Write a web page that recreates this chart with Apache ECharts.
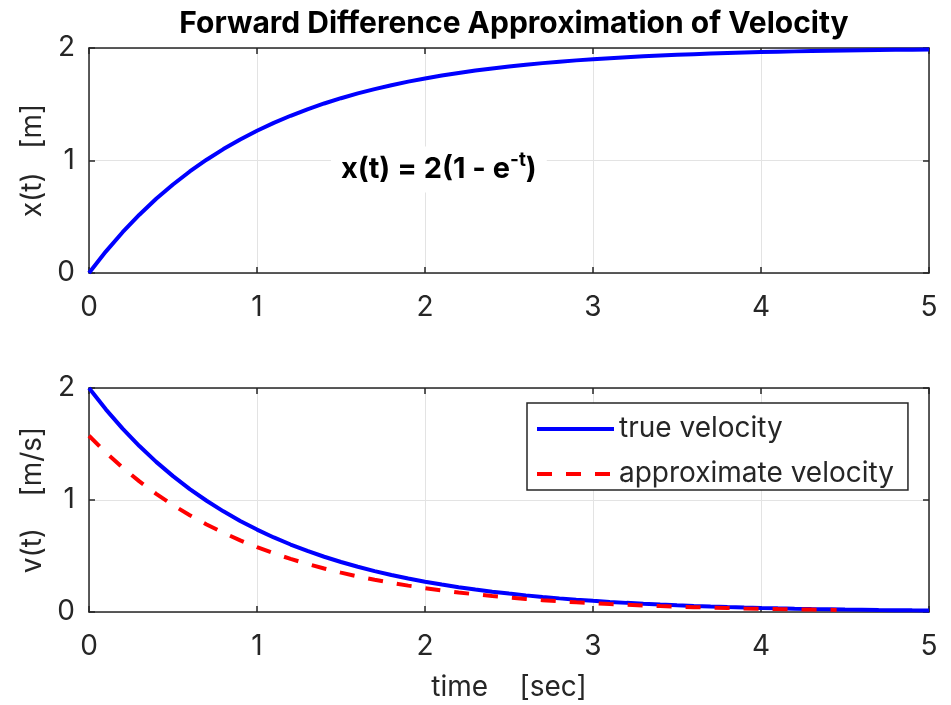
<!DOCTYPE html>
<html>
<head>
<meta charset="utf-8">
<script src="https://cdn.jsdelivr.net/npm/echarts@6/dist/echarts.min.js"></script>
<style>html,body{margin:0;padding:0;background:#fff;}#c{width:951px;height:705px;}</style>
</head>
<body>
<div id="c"></div>
<script>
// time samples [sec]
const time = [0, 0.1, 0.2, 0.3, 0.4, 0.5, 0.6, 0.7, 0.8, 0.9, 1, 1.1, 1.2, 1.3, 1.4, 1.5, 1.6, 1.7, 1.8, 1.9, 2,
  2.1, 2.2, 2.3, 2.4, 2.5, 2.6, 2.7, 2.8, 2.9, 3, 3.1, 3.2, 3.3, 3.4, 3.5, 3.6, 3.7, 3.8, 3.9, 4,
  4.1, 4.2, 4.3, 4.4, 4.5, 4.6, 4.7, 4.8, 4.9, 5];
// position x(t) [m]
const position = [0, 0.1903, 0.3625, 0.5184, 0.6594, 0.7869, 0.9024, 1.0068, 1.1013, 1.1869, 1.2642,
  1.3343, 1.3976, 1.4549, 1.5068, 1.5537, 1.5962, 1.6346, 1.6694, 1.7009, 1.7293,
  1.7551, 1.7784, 1.7995, 1.8186, 1.8358, 1.8515, 1.8656, 1.8784, 1.8900, 1.9004,
  1.9099, 1.9185, 1.9262, 1.9333, 1.9396, 1.9454, 1.9506, 1.9553, 1.9595, 1.9634,
  1.9669, 1.9700, 1.9729, 1.9754, 1.9778, 1.9799, 1.9818, 1.9835, 1.9851, 1.9865];
// true velocity [m/s]
const trueVelocity = [2.0000, 1.8097, 1.6375, 1.4816, 1.3406, 1.2131, 1.0976, 0.9932, 0.8987, 0.8131, 0.7358,
  0.6657, 0.6024, 0.5451, 0.4932, 0.4463, 0.4038, 0.3654, 0.3306, 0.2991, 0.2707,
  0.2449, 0.2216, 0.2005, 0.1814, 0.1642, 0.1485, 0.1344, 0.1216, 0.1100, 0.0996,
  0.0901, 0.0815, 0.0738, 0.0667, 0.0604, 0.0546, 0.0494, 0.0447, 0.0405, 0.0366,
  0.0331, 0.0300, 0.0271, 0.0246, 0.0222, 0.0201, 0.0182, 0.0165, 0.0149, 0.0135];
// approximate (forward difference) velocity [m/s]
const timeApprox = [0, 0.1, 0.2, 0.3, 0.4, 0.5, 0.6, 0.7, 0.8, 0.9, 1, 1.1, 1.2, 1.3, 1.4, 1.5, 1.6, 1.7, 1.8, 1.9, 2,
  2.1, 2.2, 2.3, 2.4, 2.5, 2.6, 2.7, 2.8, 2.9, 3, 3.1, 3.2, 3.3, 3.4, 3.5, 3.6, 3.7, 3.8, 3.9, 4,
  4.1, 4.2, 4.3, 4.4, 4.45];
const approxVelocity = [1.5739, 1.4241, 1.2886, 1.1660, 1.0550, 0.9546, 0.8638, 0.7816, 0.7072, 0.6399, 0.5790,
  0.5239, 0.4741, 0.4289, 0.3881, 0.3512, 0.3178, 0.2875, 0.2602, 0.2354, 0.2130,
  0.1927, 0.1744, 0.1578, 0.1428, 0.1292, 0.1169, 0.1058, 0.0957, 0.0866, 0.0784,
  0.0709, 0.0642, 0.0581, 0.0525, 0.0475, 0.0430, 0.0389, 0.0352, 0.0319, 0.0288,
  0.0261, 0.0236, 0.0214, 0.0193, 0.0184];
const xTicks = [0, 1, 2, 3, 4, 5];
const yTicks = [0, 1, 2];

const FONT = "Inter, 'Liberation Sans', Arial, sans-serif";
const AX = '#262626';
const GRIDC = '#e3e3e3';
const FS = 28;

function pairs(xs, ys) { return xs.map((x, i) => [x, ys[i]]); }

function xAx(gi, pos, labels, name) {
  return {
    type: 'value', gridIndex: gi, position: pos,
    min: xTicks[0], max: xTicks[xTicks.length - 1], interval: 1,
    axisLine: { show: true, onZero: false, lineStyle: { color: AX, width: 1.5 } },
    axisTick: { show: true, inside: true, length: 6, lineStyle: { color: AX, width: 1.5 } },
    axisLabel: { show: labels, fontSize: FS, color: AX, fontFamily: FONT, margin: 21 },
    splitLine: { show: labels, lineStyle: { color: GRIDC, width: 1 } },
    name: name || '', nameLocation: 'middle', nameGap: 62,
    nameTextStyle: { fontSize: FS, color: AX, fontFamily: FONT }
  };
}
function yAx(gi, pos, labels, name) {
  return {
    type: 'value', gridIndex: gi, position: pos,
    min: yTicks[0], max: yTicks[yTicks.length - 1], interval: 1,
    axisLine: { show: true, onZero: false, lineStyle: { color: AX, width: 1.5 } },
    axisTick: { show: true, inside: true, length: 6, lineStyle: { color: AX, width: 1.5 } },
    axisLabel: { show: labels, fontSize: FS, color: AX, fontFamily: FONT, margin: 14 },
    splitLine: { show: labels, lineStyle: { color: GRIDC, width: 1 } },
    name: name || '', nameLocation: 'middle', nameGap: 39, nameRotate: 90,
    nameTextStyle: { fontSize: FS, color: AX, fontFamily: FONT }
  };
}

const chart = echarts.init(document.getElementById('c'), null, { renderer: 'canvas' });
chart.setOption({
  backgroundColor: '#fff',
  animation: false,
  title: {
    text: 'Forward Difference Approximation of Velocity',
    left: 509, top: 4, textAlign: 'center',
    textStyle: { fontSize: 30, fontWeight: 'bold', color: '#000', fontFamily: FONT }
  },
  grid: [
    { left: 89, top: 48, width: 840, height: 225 },
    { left: 89, top: 388, width: 840, height: 224 }
  ],
  xAxis: [
    xAx(0, 'bottom', true),
    xAx(0, 'top', false),
    xAx(1, 'bottom', true, 'time    [sec]'),
    xAx(1, 'top', false)
  ],
  yAxis: [
    yAx(0, 'left', true, 'x(t)   [m]'),
    yAx(0, 'right', false),
    yAx(1, 'left', true, 'v(t)    [m/s]'),
    yAx(1, 'right', false)
  ],
  legend: {
    orient: 'vertical', left: 527, top: 403,
    padding: [12, 14, 2, 8], itemGap: 17,
    itemWidth: 77, itemHeight: 14,
    backgroundColor: '#fff', borderColor: AX, borderWidth: 1.5,
    itemStyle: { opacity: 0 },
    lineStyle: { width: 4 },
    textStyle: { fontSize: FS, color: AX, fontFamily: FONT },
    data: ['true velocity', 'approximate velocity']
  },
  series: [
    {
      name: 'x(t)', type: 'line', xAxisIndex: 0, yAxisIndex: 0,
      data: pairs(time, position),
      symbol: 'none', lineStyle: { color: '#0000ff', width: 4 }, z: 5
    },
    {
      name: 'true velocity', type: 'line', xAxisIndex: 2, yAxisIndex: 2,
      data: pairs(time, trueVelocity),
      symbol: 'none', itemStyle: { color: '#0000ff' },
      lineStyle: { color: '#0000ff', width: 4 }, z: 5
    },
    {
      name: 'approximate velocity', type: 'line', xAxisIndex: 2, yAxisIndex: 2,
      data: pairs(timeApprox, approxVelocity),
      symbol: 'none', itemStyle: { color: '#ff0000' },
      lineStyle: { color: '#ff0000', width: 4, type: [15, 14] }, z: 6
    }
  ]
});

const anchor = chart.convertToPixel({ gridIndex: 0 }, [1.5, 0.92]);
chart.setOption({
  graphic: [{
    type: 'text', x: anchor[0] - 10, y: anchor[1], z: 3,
    style: {
      text: '{m|x(t) = 2(1 - e}{s|-t}{m|)}',
      verticalAlign: 'middle', align: 'left',
      backgroundColor: '#fff', padding: [4, 10, 4, 10],
      rich: {
        m: { fontSize: 29, fontWeight: 'bold', fill: '#000', fontFamily: FONT, lineHeight: 38 },
        s: { fontSize: 19, fontWeight: 'bold', fill: '#000', fontFamily: FONT, verticalAlign: 'top', lineHeight: 38 }
      }
    }
  }]
});
</script>
</body>
</html>
